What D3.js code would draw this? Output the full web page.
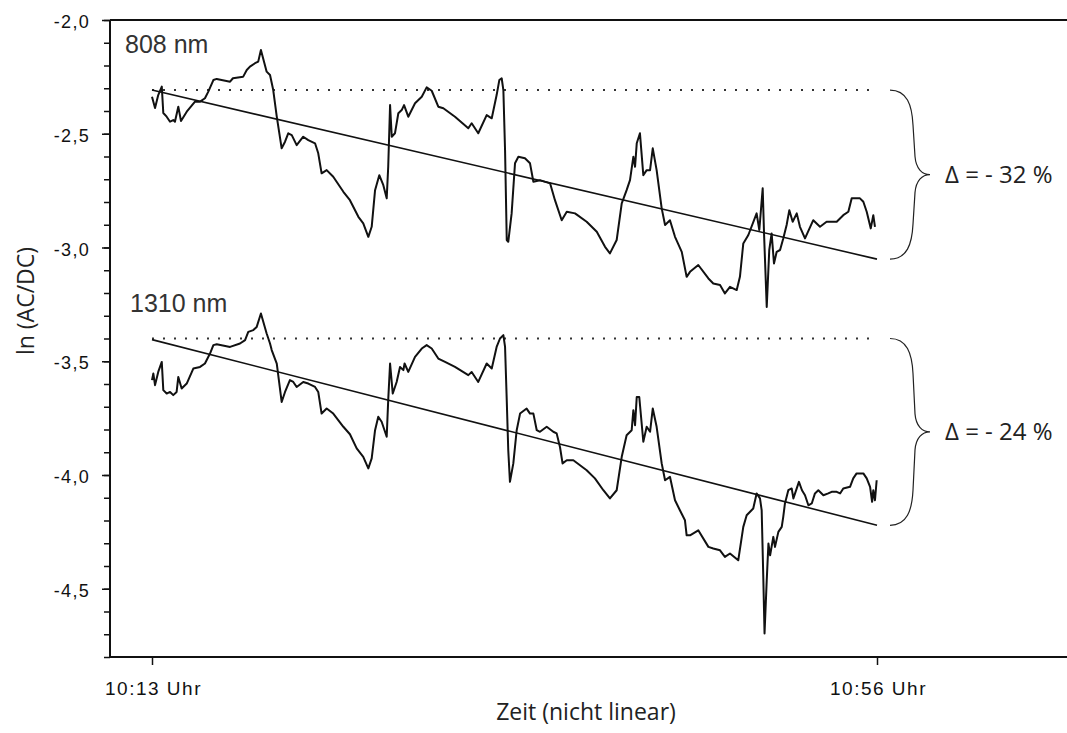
<!DOCTYPE html>
<html>
<head>
<meta charset="utf-8">
<script src="https://cdn.jsdelivr.net/npm/d3@7"></script>
<style>
  body { margin: 0; background: #fff; }
  svg { display: block; }
  .tick text { font-family: "Liberation Sans", Arial, sans-serif; fill: #111; }
  .lbl { font-family: "Open Sans", "Noto Sans", sans-serif; fill: #222; }
  .nm { font-family: "Liberation Sans", Arial, sans-serif; fill: #333; font-size: 25px; }
</style>
</head>
<body>
<div id="chart"></div>
<script>
// time axis is "nicht linear": minutes after 10:13 as plotted position
const zeitTicks = [0, 43];
const zeitLabels = ["10:13 Uhr", "10:56 Uhr"];

const yMajor = [-2.0, -2.5, -3.0, -3.5, -4.0, -4.5];

// ln(AC/DC) at 808 nm  [zeit, value]
const s808 = [
  [0.00,-2.337],[0.18,-2.387],[0.37,-2.330],[0.58,-2.293],[0.67,-2.409],[0.87,-2.425],
  [1.07,-2.447],[1.26,-2.440],[1.36,-2.447],[1.56,-2.381],[1.72,-2.444],[2.06,-2.403],
  [2.55,-2.359],[2.85,-2.359],[3.14,-2.344],[3.34,-2.315],[3.64,-2.264],[3.84,-2.259],
  [4.63,-2.271],[4.80,-2.256],[5.41,-2.249],[5.62,-2.220],[5.81,-2.205],[6.11,-2.190],
  [6.30,-2.183],[6.46,-2.132],[6.80,-2.227],[7.00,-2.242],[7.19,-2.308],[7.40,-2.425],
  [7.69,-2.564],[7.89,-2.535],[8.08,-2.498],[8.29,-2.506],[8.58,-2.550],[8.97,-2.513],
  [9.27,-2.528],[9.67,-2.542],[9.86,-2.586],[10.06,-2.674],[10.36,-2.660],[10.75,-2.689],
  [11.35,-2.755],[11.74,-2.792],[12.24,-2.865],[12.53,-2.894],[12.83,-2.953],[13.03,-2.909],
  [13.23,-2.748],[13.48,-2.682],[13.72,-2.726],[13.92,-2.784],[14.01,-2.645],[14.12,-2.374],
  [14.22,-2.513],[14.41,-2.498],[14.61,-2.410],[14.81,-2.396],[14.95,-2.374],[15.20,-2.425],
  [15.60,-2.366],[16.00,-2.337],[16.29,-2.296],[16.59,-2.311],[16.98,-2.381],[17.28,-2.388],
  [17.97,-2.425],[18.76,-2.476],[18.96,-2.454],[19.35,-2.498],[19.85,-2.418],[20.15,-2.432],
  [20.44,-2.330],[20.60,-2.264],[20.74,-2.256],[20.84,-2.308],[20.94,-2.572],[21.04,-2.967],
  [21.13,-2.975],[21.33,-2.850],[21.53,-2.630],[21.73,-2.601],[22.12,-2.608],[22.42,-2.630],
  [22.62,-2.711],[23.01,-2.704],[23.61,-2.718],[23.90,-2.792],[24.30,-2.880],[24.60,-2.843],
  [25.09,-2.850],[25.78,-2.887],[26.38,-2.931],[26.87,-2.997],[27.16,-3.026],[27.56,-2.967],
  [27.86,-2.806],[28.15,-2.748],[28.35,-2.704],[28.55,-2.601],[28.65,-2.645],[28.75,-2.542],
  [28.94,-2.498],[29.14,-2.682],[29.34,-2.660],[29.54,-2.660],[29.70,-2.564],[29.93,-2.660],
  [30.23,-2.828],[30.43,-2.901],[30.72,-2.880],[31.02,-2.953],[31.42,-3.019],[31.71,-3.129],
  [31.91,-3.107],[32.40,-3.077],[33.00,-3.136],[33.29,-3.158],[33.69,-3.165],[33.98,-3.202],
  [34.28,-3.173],[34.68,-3.187],[34.87,-3.129],[35.07,-2.982],[35.37,-2.945],[35.86,-2.850],
  [36.02,-2.923],[36.22,-2.740],[36.30,-2.938],[36.46,-3.261],[36.61,-3.011],[36.75,-2.938],
  [36.89,-3.070],[37.05,-3.019],[37.25,-3.011],[37.44,-2.960],[37.64,-2.901],[37.80,-2.836],
  [38.00,-2.887],[38.24,-2.850],[38.43,-2.909],[38.73,-2.960],[39.22,-2.880],[39.62,-2.909],
  [40.01,-2.887],[40.61,-2.887],[41.00,-2.858],[41.30,-2.843],[41.50,-2.784],[41.99,-2.784],
  [42.19,-2.799],[42.39,-2.843],[42.63,-2.916],[42.78,-2.858],[42.88,-2.909]
];

// ln(AC/DC) at 1310 nm  [zeit, value]
const s1310 = [
  [0.00,-3.583],[0.08,-3.554],[0.18,-3.605],[0.37,-3.547],[0.58,-3.503],[0.67,-3.627],
  [0.87,-3.642],[1.07,-3.635],[1.26,-3.649],[1.46,-3.635],[1.56,-3.569],[1.76,-3.620],
  [2.06,-3.598],[2.45,-3.532],[2.85,-3.525],[3.14,-3.510],[3.44,-3.466],[3.64,-3.429],
  [3.84,-3.425],[4.63,-3.437],[5.22,-3.422],[5.52,-3.407],[5.71,-3.371],[6.01,-3.363],
  [6.21,-3.349],[6.46,-3.290],[6.80,-3.378],[7.00,-3.422],[7.10,-3.451],[7.40,-3.510],
  [7.69,-3.679],[7.89,-3.635],[8.18,-3.583],[8.38,-3.591],[8.58,-3.613],[8.97,-3.591],
  [9.27,-3.598],[9.67,-3.613],[9.86,-3.635],[10.06,-3.730],[10.36,-3.708],[10.75,-3.730],
  [11.35,-3.788],[11.74,-3.821],[12.14,-3.883],[12.53,-3.920],[12.83,-3.971],[13.03,-3.927],
  [13.23,-3.803],[13.42,-3.744],[13.62,-3.766],[13.92,-3.832],[14.01,-3.671],[14.12,-3.510],
  [14.28,-3.642],[14.51,-3.591],[14.71,-3.525],[14.91,-3.539],[14.98,-3.510],[15.20,-3.547],
  [15.60,-3.481],[16.00,-3.444],[16.29,-3.429],[16.59,-3.444],[16.98,-3.488],[17.38,-3.503],
  [17.97,-3.525],[18.76,-3.561],[18.96,-3.547],[19.35,-3.591],[19.85,-3.510],[20.15,-3.532],
  [20.44,-3.437],[20.64,-3.400],[20.84,-3.385],[20.94,-3.437],[21.04,-3.671],[21.13,-3.891],
  [21.23,-4.030],[21.43,-3.949],[21.63,-3.803],[21.83,-3.730],[22.22,-3.708],[22.42,-3.730],
  [22.62,-3.730],[22.82,-3.803],[23.01,-3.810],[23.41,-3.788],[23.80,-3.810],[24.00,-3.817],
  [24.20,-3.878],[24.35,-3.949],[24.60,-3.935],[24.99,-3.935],[25.78,-3.979],[26.27,-4.015],
  [26.77,-4.067],[27.16,-4.103],[27.56,-4.067],[27.86,-3.920],[28.15,-3.825],[28.45,-3.803],
  [28.55,-3.715],[28.65,-3.781],[28.75,-3.657],[28.90,-3.657],[29.14,-3.854],[29.34,-3.788],
  [29.54,-3.810],[29.70,-3.708],[29.93,-3.788],[30.23,-3.949],[30.43,-4.023],[30.72,-4.008],
  [31.02,-4.111],[31.31,-4.155],[31.61,-4.199],[31.71,-4.265],[31.91,-4.265],[32.40,-4.243],
  [33.00,-4.316],[33.29,-4.323],[33.69,-4.331],[33.98,-4.360],[34.28,-4.345],[34.77,-4.375],
  [35.07,-4.228],[35.27,-4.177],[35.66,-4.147],[35.86,-4.081],[36.06,-4.103],[36.16,-4.155],
  [36.26,-4.463],[36.33,-4.697],[36.46,-4.463],[36.56,-4.301],[36.66,-4.353],[36.85,-4.272],
  [36.95,-4.316],[37.15,-4.250],[37.35,-4.228],[37.44,-4.184],[37.54,-4.125],[37.74,-4.067],
  [37.94,-4.059],[38.04,-4.103],[38.24,-4.059],[38.37,-4.030],[38.55,-4.067],[38.73,-4.089],
  [38.93,-4.133],[39.13,-4.125],[39.32,-4.081],[39.52,-4.067],[39.82,-4.089],[40.11,-4.081],
  [40.31,-4.074],[40.61,-4.074],[40.81,-4.081],[41.00,-4.059],[41.40,-4.052],[41.59,-4.015],
  [41.79,-3.993],[42.19,-3.993],[42.39,-4.015],[42.59,-4.052],[42.71,-4.118],[42.78,-4.067],
  [42.88,-4.111],[42.98,-4.023]
];

// linear trends and starting levels
const trend808 = [[0, -2.308], [43, -3.051]];
const trend1310 = [[0, -3.405], [43, -4.221]];
const level808 = -2.308;
const level1310 = -3.400;
const levelEnd = 42.7;
const deltaLabels = ["\u0394 = - 32 %", "\u0394 = - 24 %"];

const width = 1067;
const height = 733;
const plotLeft = 110, plotTop = 20, plotBottom = 657;

const svg = d3.select("#chart").append("svg")
  .attr("width", width)
  .attr("height", height);

const x = d3.scaleLinear().domain([0, 43]).range([152, 877]);
const y = d3.scaleLinear().domain([-2.0, -4.8]).range([plotTop, plotBottom]);

const fmt = d3.formatLocale({
  decimal: ",", thousands: ".", grouping: [3], currency: ["", ""], minus: "-"
}).format(".1f");

// minor ticks (every 0.1)
const yMinor = d3.range(-2.0, -4.85, -0.1).map(v => +v.toFixed(1));
svg.append("g")
  .attr("transform", `translate(${plotLeft},0)`)
  .call(d3.axisLeft(y).tickValues(yMinor).tickSize(6).tickFormat(""))
  .call(g => g.select(".domain").remove())
  .call(g => g.selectAll("line").attr("stroke", "#111").attr("stroke-width", 1.5));

// major ticks with labels
svg.append("g")
  .attr("transform", `translate(${plotLeft},0)`)
  .call(d3.axisLeft(y).tickValues(yMajor).tickSize(8).tickFormat(fmt))
  .call(g => g.select(".domain").remove())
  .call(g => g.selectAll("line").attr("stroke", "#111").attr("stroke-width", 1.5))
  .call(g => g.selectAll("text")
    .attr("x", -20).attr("dy", null).attr("y", 7.5)
    .style("font-size", "18px").style("letter-spacing", "1.3px"));

// x axis
svg.append("g")
  .attr("transform", `translate(0,${plotBottom})`)
  .call(d3.axisBottom(x).tickValues(zeitTicks).tickSize(8).tickFormat((d, i) => zeitLabels[i]))
  .call(g => g.select(".domain").remove())
  .call(g => g.selectAll("line").attr("stroke", "#111").attr("stroke-width", 1.5))
  .call(g => g.selectAll("text")
    .attr("y", 38).attr("dy", null).attr("dx", 1)
    .style("font-size", "19px").style("letter-spacing", "1.5px"));

// frame lines
svg.append("line").attr("x1", plotLeft).attr("x2", plotLeft).attr("y1", plotTop).attr("y2", plotBottom)
  .attr("stroke", "#111").attr("stroke-width", 2);
svg.append("line").attr("x1", plotLeft).attr("x2", width).attr("y1", plotTop).attr("y2", plotTop)
  .attr("stroke", "#111").attr("stroke-width", 2);
svg.append("line").attr("x1", plotLeft).attr("x2", width).attr("y1", plotBottom).attr("y2", plotBottom)
  .attr("stroke", "#111").attr("stroke-width", 2);

const line = d3.line().x(d => x(d[0])).y(d => y(d[1]));

// dotted starting levels
[level808, level1310].forEach(lv => {
  svg.append("line")
    .attr("x1", x(0)).attr("x2", x(levelEnd))
    .attr("y1", y(lv)).attr("y2", y(lv))
    .attr("stroke", "#333").attr("stroke-width", 2)
    .attr("stroke-dasharray", "2 9");
});

// trend lines
[trend808, trend1310].forEach(tr => {
  svg.append("path").datum(tr)
    .attr("d", line)
    .attr("fill", "none").attr("stroke", "#111").attr("stroke-width", 1.6);
});

// measured series
[s808, s1310].forEach(s => {
  svg.append("path").datum(s)
    .attr("d", line)
    .attr("fill", "none").attr("stroke", "#111").attr("stroke-width", 2)
    .attr("stroke-linejoin", "round");
});

// braces with delta labels
const braces = [
  { y0: level808, y1: trend808[1][1], label: deltaLabels[0] },
  { y0: level1310, y1: trend1310[1][1], label: deltaLabels[1] }
];
const bx = x(43) + 13;
braces.forEach(b => {
  const y0 = y(b.y0), y1 = y(b.y1), ym = (y0 + y1) / 2;
  const p = d3.path();
  p.moveTo(bx, y0);
  p.bezierCurveTo(bx + 17, y0, bx + 22, y0 + 15, bx + 23, y0 + 35);
  p.lineTo(bx + 25, ym - 18);
  p.bezierCurveTo(bx + 26, ym - 6, bx + 32, ym, bx + 40, ym);
  p.bezierCurveTo(bx + 32, ym, bx + 26, ym + 6, bx + 25, ym + 18);
  p.lineTo(bx + 23, y1 - 35);
  p.bezierCurveTo(bx + 22, y1 - 15, bx + 17, y1, bx, y1);
  svg.append("path").attr("d", p.toString())
    .attr("fill", "none").attr("stroke", "#222").attr("stroke-width", 1.2);
  svg.append("text").attr("class", "lbl")
    .attr("x", bx + 55).attr("y", ym + 8)
    .style("font-size", "24px")
    .text(b.label);
});

// series labels
svg.append("text").attr("class", "nm").attr("x", 125).attr("y", 53).text("808 nm");
svg.append("text").attr("class", "nm").attr("x", 130).attr("y", 312).text("1310 nm");

// axis titles
svg.append("text").attr("class", "lbl")
  .attr("transform", "translate(34,301) rotate(-90)")
  .attr("text-anchor", "middle")
  .style("font-size", "23px")
  .text("ln (AC/DC)");

svg.append("text").attr("class", "lbl")
  .attr("x", 586).attr("y", 720)
  .attr("text-anchor", "middle")
  .style("font-size", "23px")
  .text("Zeit (nicht linear)");
</script>
</body>
</html>
